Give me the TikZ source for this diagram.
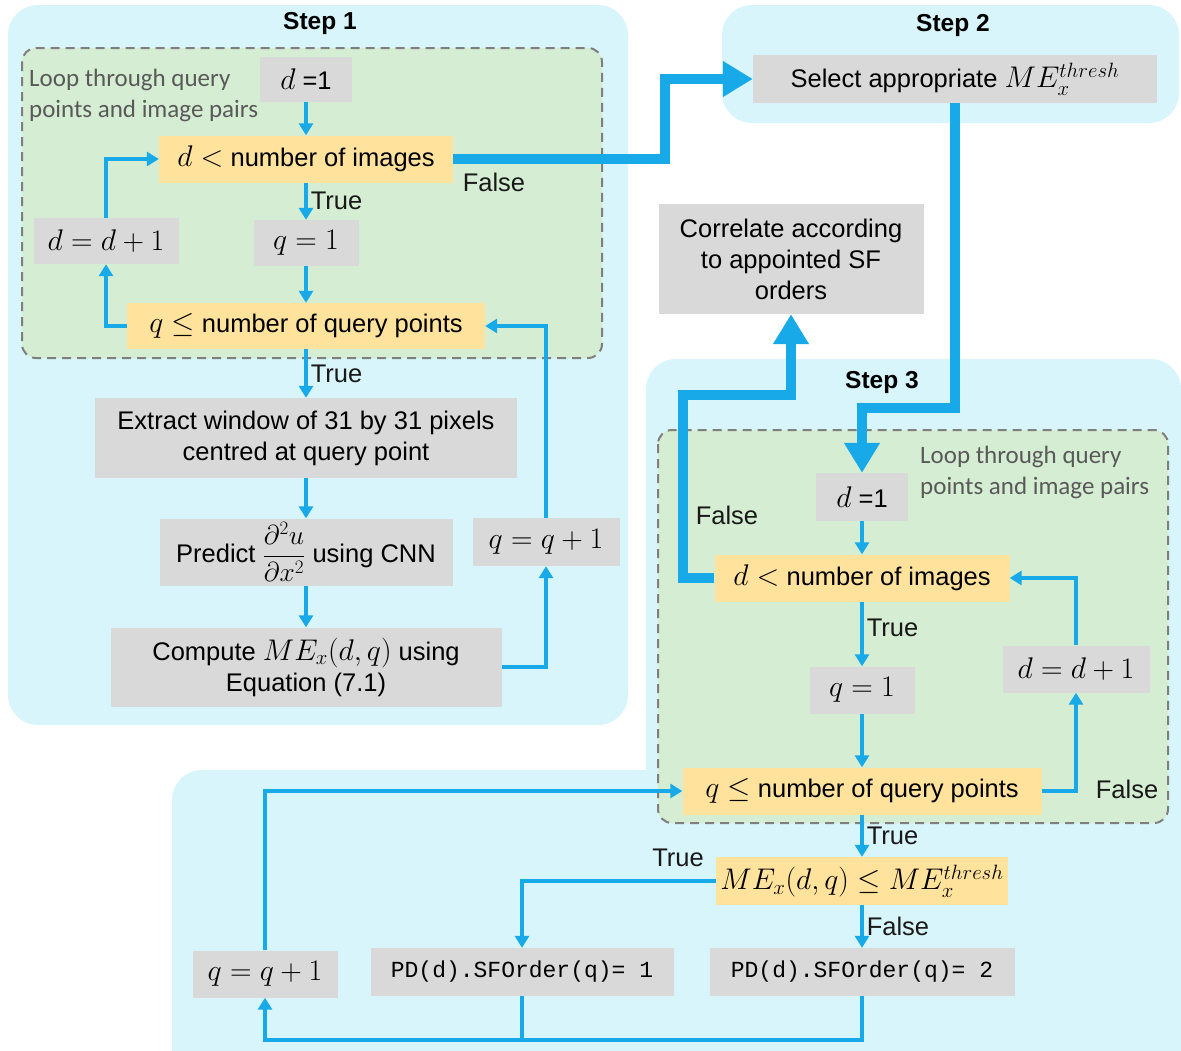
\documentclass[tikz,border=0pt]{standalone}
\usepackage{amsmath}
\usepackage{graphicx}
\usepackage{fontspec}
\setmainfont{Liberation Sans}
\setmonofont{Liberation Mono}
\newfontfamily\calibfont{Carlito}
\usetikzlibrary{arrows.meta}
\definecolor{panelc}{HTML}{D7F5FA}
\definecolor{greenc}{HTML}{D5EDD2}
\definecolor{boxgray}{HTML}{D9D9D9}
\definecolor{boxyel}{HTML}{FFE29B}
\definecolor{arrblue}{HTML}{17A9E8}
\definecolor{dashgray}{HTML}{7F7F7F}
\definecolor{looptext}{HTML}{595959}
\newcommand\mainfsize{\fontsize{25.5}{31}\selectfont}
\newcommand\mth[1]{\scalebox{1.2}{$#1$}}
\tikzset{
  gbox/.style={fill=boxgray, inner sep=0pt, align=center, font=\mainfsize},
  ybox/.style={fill=boxyel, inner sep=0pt, align=center, font=\mainfsize},
  panel/.style={fill=panelc, rounded corners=30pt},
  loopbox/.style={fill=greenc, draw=dashgray, line width=2pt, dash pattern=on 9pt off 6pt, rounded corners=14pt},
  lbl/.style={font=\mainfsize, text=black!90, inner sep=3pt},
  looptxt/.style={font=\calibfont\fontsize{25}{31}\selectfont, text=looptext, align=left, inner sep=0pt},
  steptitle/.style={font=\fontsize{24.5}{30}\selectfont\bfseries},
  thinarr/.style={draw=arrblue, line width=3.5pt, -{Triangle[length=12pt,width=14pt]}},
  thinline/.style={draw=arrblue, line width=3.5pt},
  thickarr/.style={draw=arrblue, line width=10pt, -{Triangle[length=30pt,width=34pt]}},
}
\begin{document}
\begin{tikzpicture}[x=1pt,y=-1pt]
\path[use as bounding box] (0,0) rectangle (1181,1050);
% panels
\fill[panel] (8,5) rectangle (628,725);
\fill[panel] (722,5) rectangle (1179,123);
\fill[panel] (646,359) rectangle (1181,1080);
\fill[panel] (172,770) rectangle (1181,1080);
\path[loopbox] (22,48) rectangle (602,358);
\path[loopbox] (658,430) rectangle (1168,823);
% titles
\node[steptitle] (t1) at (320,23) {Step 1};
\node[steptitle] (t2) at (953,25) {Step 2};
\node[steptitle] (t3) at (882,382) {Step 3};
% loop texts
\node[looptxt, anchor=north west] (lt1) at (29,69) {Loop through query\\points and image pairs};
\node[looptxt, anchor=north west] (lt3) at (920,446) {Loop through query\\points and image pairs};
% Step 1 nodes
\node[gbox, minimum width=92pt, minimum height=45pt] (d1) at (306,79) {\mth{d} =1};
\node[ybox, minimum width=294pt, minimum height=47pt] (c1) at (306,159) {\mth{d <} number of images};
\node[gbox, minimum width=105pt, minimum height=46pt] (q1) at (306,243) {\mth{q = 1}};
\node[gbox, minimum width=145pt, minimum height=46pt] (dd1) at (106,241) {\mth{d = d + 1}};
\node[ybox, minimum width=358pt, minimum height=46pt] (c2) at (306,326) {\mth{q \le} number of query points};
\node[gbox, minimum width=422pt, minimum height=80pt] (ex) at (306,438) {Extract window of 31 by 31 pixels\\centred at query point};
\node[gbox, minimum width=293pt, minimum height=67pt] (pr) at (306,552) {Predict \scalebox{1.1}{$\dfrac{\partial^2 u}{\partial x^2}$} using CNN};
\node[gbox, minimum width=391pt, minimum height=79pt] (cm) at (306,667) {Compute \mth{ME_x(d,q)} using\\Equation (7.1)};
\node[gbox, minimum width=147pt, minimum height=48pt] (qq1) at (546,542) {\mth{q = q + 1}};
% Step 2 and correlate
\node[gbox, minimum width=404pt, minimum height=48pt] (s2) at (955,79) {Select appropriate \mth{ME_x^{thresh}}};
\node[gbox, minimum width=265pt, minimum height=110pt] (corr) at (791,259) {Correlate according\\to appointed SF\\orders};
% Step 3 nodes
\node[gbox, minimum width=92pt, minimum height=48pt] (d3) at (862,497) {\mth{d} =1};
\node[ybox, minimum width=295pt, minimum height=47pt] (c3) at (862,578) {\mth{d <} number of images};
\node[gbox, minimum width=105pt, minimum height=47pt] (q3) at (862,690) {\mth{q = 1}};
\node[gbox, minimum width=147pt, minimum height=47pt] (dd3) at (1076,669) {\mth{d = d + 1}};
\node[ybox, minimum width=359pt, minimum height=47pt] (c4) at (862,791) {\mth{q \le} number of query points};
\node[ybox, minimum width=292pt, minimum height=48pt] (c5) at (862,881) {\mth{ME_x(d,q) \le ME_x^{thresh}}};
\node[gbox, minimum width=303pt, minimum height=48pt, font=\ttfamily\fontsize{23}{28}\selectfont] (pd1) at (522,972) {PD(d).SFOrder(q)= 1};
\node[gbox, minimum width=305pt, minimum height=48pt, font=\ttfamily\fontsize{23}{28}\selectfont] (pd2) at (862,972) {PD(d).SFOrder(q)= 2};
\node[gbox, minimum width=145pt, minimum height=47pt] (qq3) at (265,974) {\mth{q = q + 1}};
\coordinate (bus) at (0,1040);
\coordinate (j1) at (665,159);
\coordinate (j2) at (0,408);
\coordinate (j3) at (683,395);
% Step 1 arrows
\draw[thinarr] (d1.south) -- (c1.north);
\draw[thinarr] (c1.south) -- node[lbl, right] (tr1) {True} (q1.north);
\draw[thinarr] (q1.south) -- (c2.north);
\draw[thinarr] (c2.west) -| (dd1.south);
\draw[thinarr] (dd1.north) |- (c1.west);
\draw[thinarr] (c2.south) -- node[lbl, right] (tr2) {True} (ex.north);
\draw[thinarr] (ex.south) -- (pr.north);
\draw[thinarr] (pr.south) -- (cm.north);
\draw[thinarr] (cm.east) -| (qq1.south);
\draw[thinarr] (qq1.north) |- (c2.east);
% thick connectors
\draw[thickarr] (c1.east) -- (j1) |- (s2.west);
\node[lbl] (f1) at (494,182) {False};
\draw[thickarr] (s2.south) -- (s2.south |- j2) -| (d3.north);
\draw[thickarr] (c3.west) -| (j3) -| (corr.south);
\node[lbl] (f2) at (727,515) {False};
% Step 3 arrows
\draw[thinarr] (d3.south) -- (c3.north);
\draw[thinarr] (c3.south) -- node[lbl, right, pos=0.4] (tr3) {True} (q3.north);
\draw[thinarr] (q3.south) -- (c4.north);
\draw[thinarr] (c4.east) -| (dd3.south);
\draw[thinarr] (dd3.north) |- (c3.east);
\node[lbl] (f3) at (1127,789) {False};
\draw[thinarr] (c4.south) -- node[lbl, right] (tr4) {True} (c5.north);
\draw[thinarr] (c5.west) -| (pd1.north);
\node[lbl] (tr5) at (678,858) {True};
\draw[thinarr] (c5.south) -- node[lbl, right] (f4) {False} (pd2.north);
\draw[thinline] (pd1.south) -- (pd1.south |- bus);
\draw[thinarr] (pd2.south) -- (pd2.south |- bus) -| (qq3.south);
\draw[thinarr] (qq3.north) |- (c4.west);
\end{tikzpicture}
\end{document}
